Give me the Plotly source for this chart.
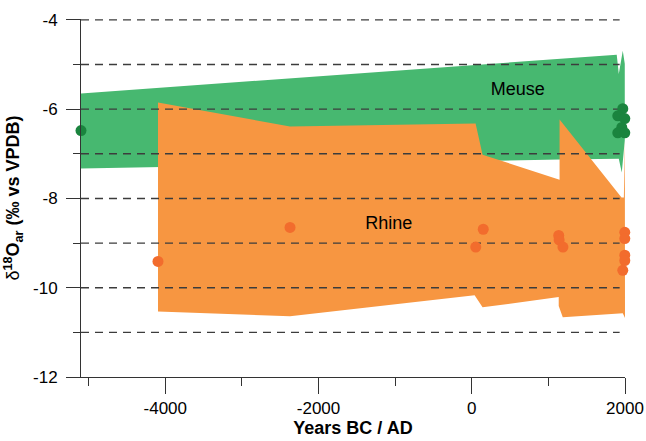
import plotly.graph_objects as go

# ---- data ----
# Meuse envelope (polygon outline, years BC/AD, d18O)
MEUSE_X = [-5100, 1892, 1919, 1971, 1997, 1997, 1958, 1919, 1151, -5100]
MEUSE_Y = [-5.65, -4.78, -5.21, -4.69, -4.98, -6.70, -7.42, -7.11, -7.13, -7.33]

# Rhine envelope (polygon outline)
RHINE_X = [-4095, -2372, 50, 141, 1146, 1146, 1955, 1985, 1998, 2000,
           1971, 1188, 1135, 1135, 141, 37, -2372, -4095]
RHINE_Y = [-5.85, -6.39, -6.32, -7.02, -7.58, -6.23, -7.98, -7.98, -6.70, -10.68,
           -10.57, -10.66, -10.41, -10.21, -10.44, -10.17, -10.64, -10.53]

# Meuse samples
MEUSE_PTS_X = [-5100, 1971, 1906, 1997, 1958, 1906, 1997]
MEUSE_PTS_Y = [-6.48, -5.99, -6.15, -6.21, -6.41, -6.53, -6.53]

# Rhine samples
RHINE_PTS_X = [-4095, -2372, 52, 150, 1135, 1140, 1190, 1997, 1997, 1997, 1997, 1971]
RHINE_PTS_Y = [-9.41, -8.65, -9.09, -8.69, -8.83, -8.93, -9.09, -8.76, -8.90, -9.27, -9.39, -9.61]

# labels
LABELS = ["Meuse", "Rhine"]
LABEL_X = [600, -1083]
LABEL_Y = [-5.59, -8.59]

# axes
X_TICKS = [-4000, -2000, 0, 2000]
X_TICK_LABELS = ["-4000", "-2000", "0", "2000"]
Y_TICKS = [-4, -6, -8, -10, -12]
Y_TICK_LABELS = ["-4", "-6", "-8", "-10", "-12"]
GRID_LEVELS = [-4, -5, -6, -7, -8, -9, -10, -11]
GRID_X = [-5100, 1930]

GREEN_FILL = "#47b870"
ORANGE_FILL = "#f79641"
GREEN_PT = "#1a843e"
ORANGE_PT = "#f26c2d"
FONT = "Arial, 'Liberation Sans', sans-serif"

fig = go.Figure()

fig.add_trace(go.Scatter(x=MEUSE_X, y=MEUSE_Y, fill="toself", fillcolor=GREEN_FILL,
                         mode="lines", line=dict(width=0, color=GREEN_FILL),
                         hoverinfo="skip", showlegend=False))
fig.add_trace(go.Scatter(x=RHINE_X, y=RHINE_Y, fill="toself", fillcolor=ORANGE_FILL,
                         mode="lines", line=dict(width=0, color=ORANGE_FILL),
                         hoverinfo="skip", showlegend=False))

# dashed grid lines drawn above the envelopes
gx, gy = [], []
for lv in GRID_LEVELS:
    gx += [GRID_X[0], GRID_X[1], None]
    gy += [lv, lv, None]
fig.add_trace(go.Scatter(x=gx, y=gy, mode="lines",
                         line=dict(color="#3c3c3c", width=1.4, dash="8px,6px"),
                         hoverinfo="skip", showlegend=False))

fig.add_trace(go.Scatter(x=MEUSE_PTS_X, y=MEUSE_PTS_Y, mode="markers",
                         marker=dict(color=GREEN_PT, size=11, line=dict(width=0)),
                         cliponaxis=False, showlegend=False))
fig.add_trace(go.Scatter(x=RHINE_PTS_X, y=RHINE_PTS_Y, mode="markers",
                         marker=dict(color=ORANGE_PT, size=11, line=dict(width=0)),
                         cliponaxis=False, showlegend=False))

fig.add_trace(go.Scatter(x=LABEL_X, y=LABEL_Y, mode="text", text=LABELS,
                         textfont=dict(family=FONT, size=18, color="black"),
                         hoverinfo="skip", showlegend=False))

fig.update_layout(
    width=646, height=441,
    margin=dict(l=81, r=21, t=19, b=64),
    paper_bgcolor="white", plot_bgcolor="white",
    font=dict(family=FONT, color="black", size=17),
    xaxis=dict(
        range=[-5100, 2000], showgrid=False, zeroline=False, automargin=False,
        showline=True, linecolor="#333", linewidth=1,
        tickmode="array", tickvals=X_TICKS, ticktext=X_TICK_LABELS,
        ticks="outside", ticklen=16, tickcolor="#333", tickwidth=1,
        minor=dict(dtick=1000, tick0=0, ticks="outside", ticklen=8,
                   tickcolor="#333", tickwidth=1, showgrid=False),
        tickfont=dict(size=17, family=FONT, color="black"),
        title=dict(text="<b>Years BC / AD</b>", font=dict(size=18, family=FONT),
                   standoff=2),
    ),
    yaxis=dict(
        range=[-12, -3.98], showgrid=False, zeroline=False, automargin=False,
        showline=True, linecolor="#333", linewidth=1,
        tickmode="array", tickvals=Y_TICKS, ticktext=Y_TICK_LABELS,
        ticks="outside", ticklen=14, tickcolor="#333", tickwidth=1,
        ticklabelstandoff=5,
        minor=dict(dtick=1, tick0=0, ticks="outside", ticklen=7,
                   tickcolor="#333", tickwidth=1, showgrid=False),
        tickfont=dict(size=17, family=FONT, color="black"),
        title=dict(text="δ<b><sup>18</sup>O<sub>ar</sub> (‰ vs VPDB)</b>",
                   font=dict(size=18, family=FONT), standoff=8),
    ),
)

fig.write_html("out.html")
